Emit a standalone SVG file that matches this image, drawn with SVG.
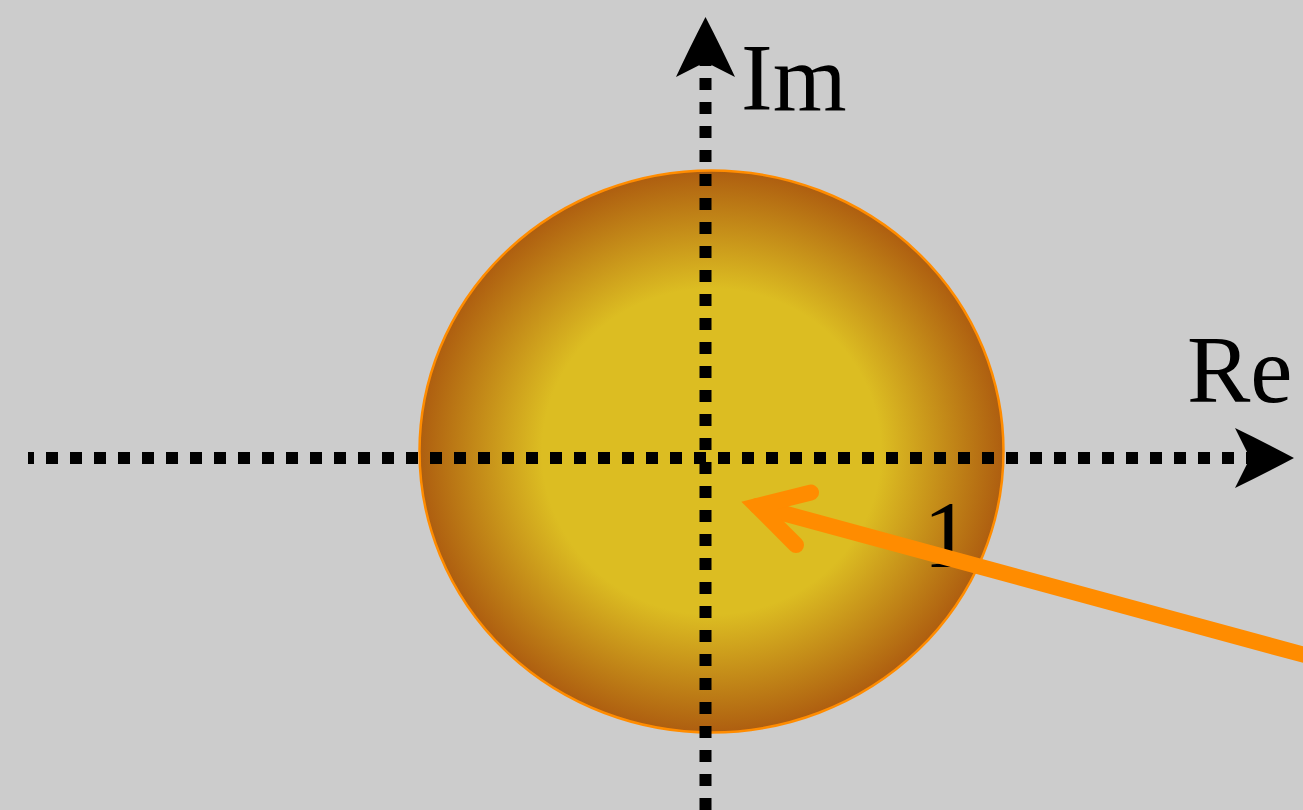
<svg xmlns="http://www.w3.org/2000/svg" width="1303" height="810" viewBox="0 0 1303 810">
  <defs>
    <radialGradient id="disk" cx="0.5" cy="0.5" r="0.5">
      <stop offset="0" stop-color="#DCBD22"/>
      <stop offset="0.58" stop-color="#DCBD22"/>
      <stop offset="1" stop-color="#AE5E10"/>
    </radialGradient>
  </defs>
  <style>
    .axis { fill: none; stroke: #000; stroke-width: 12; stroke-dasharray: 12 12; }
    .head { fill: #000; stroke: none; }
    .lbl { font-family: "Liberation Serif", "DejaVu Serif", serif; font-size: 95px; fill: #000; }
    .vec { fill: none; stroke: #FF8C00; stroke-width: 16; stroke-linecap: round; }
  </style>
  <rect x="0" y="0" width="1303" height="810" fill="#CCCCCC"/>
  <g id="disk-node">
    <ellipse cx="711.5" cy="451.5" rx="292" ry="281" fill="url(#disk)" stroke="#FF8C00" stroke-width="2.5"/>
  </g>
  <g id="labels">
    <text class="lbl" x="741" y="110">Im</text>
    <text class="lbl" x="1187" y="402">Re</text>
    <text class="lbl" x="947" y="567" text-anchor="middle">1</text>
  </g>
  <g id="connectors">
    <path class="axis" d="M28,458 L1250,458" stroke-dashoffset="6"/>
    <path class="axis" d="M705.5,810 L705.5,60"/>
    <path class="head" d="M1294,458 Q1262,441 1235,428 L1250,458 L1235,488 Q1262,475 1294,458 Z"/>
    <path class="head" d="M705.5,17 Q722,49 735,77 L705.5,62 L676,77 Q689,49 705.5,17 Z"/>
    <path class="vec" d="M1345,666 L757,506"/>
    <path class="vec" d="M811,492.5 L757,506 L796,545" stroke-linejoin="miter" stroke-miterlimit="6"/>
  </g>
</svg>
